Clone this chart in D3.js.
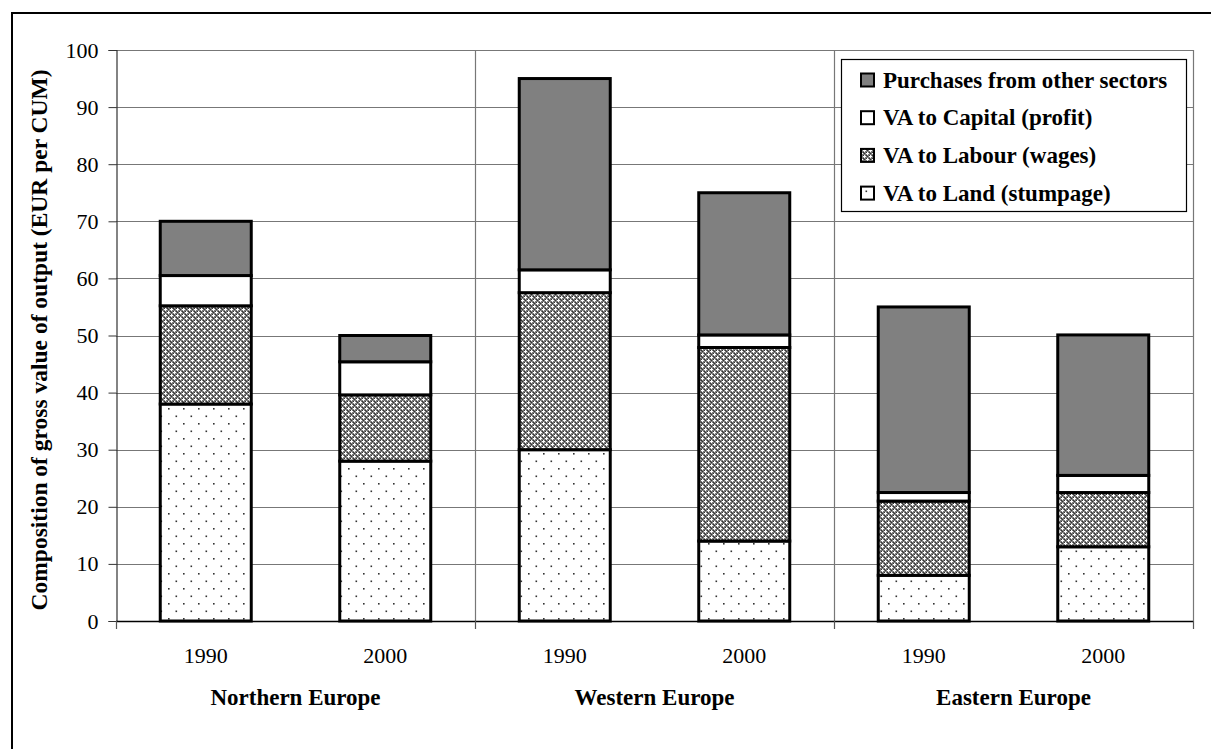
<!DOCTYPE html>
<html>
<head>
<meta charset="utf-8">
<script src="https://cdn.jsdelivr.net/npm/d3@7"></script>
<style>
  html, body { margin: 0; padding: 0; background: #fff; }
  svg { display: block; }
  text { font-family: "Liberation Serif", "Times New Roman", serif; fill: #000; }
</style>
</head>
<body>
<svg id="chart" width="1211" height="749"></svg>
<script>
// ---- data ----
const regions = ["Northern Europe", "Western Europe", "Eastern Europe"];
const years = ["1990", "2000"];
const seriesNames = ["VA to Land (stumpage)", "VA to Labour (wages)", "VA to Capital (profit)", "Purchases from other sectors"];
const land      = [38, 28, 30, 14, 8, 13];
const labour    = [17.2, 11.6, 27.5, 33.9, 13, 9.5];
const capital   = [5.3, 5.8, 4, 2.2, 1.5, 3];
const purchases = [9.5, 4.6, 33.5, 24.9, 32.5, 24.6];
const yTicks = [0, 10, 20, 30, 40, 50, 60, 70, 80, 90, 100];
const yTitle = "Composition of gross value of output (EUR per CUM)";

// ---- build rows ----
const rows = [];
regions.forEach((r, gi) => years.forEach((y, yi) => {
  const i = gi * 2 + yi;
  rows.push({ id: r + "|" + y, region: r, year: y,
    "VA to Land (stumpage)": land[i],
    "VA to Labour (wages)": labour[i],
    "VA to Capital (profit)": capital[i],
    "Purchases from other sectors": purchases[i] });
}));
const stack = d3.stack().keys(seriesNames)(rows);

const svg = d3.select("#chart");
const L = 116, R = 1193, T = 50, B = 621;

// ---- patterns ----
const defs = svg.append("defs");
const pLab = defs.append("pattern").attr("id", "pLabour").attr("patternUnits", "userSpaceOnUse")
  .attr("width", 6).attr("height", 6);
pLab.append("rect").attr("width", 6).attr("height", 6).attr("fill", "#7c7c7c");
[[0,0],[1,0],[5,0],[0,1],[0,5],[3,3],[2,3],[4,3],[3,2],[3,4]].forEach(([x,y]) =>
  pLab.append("rect").attr("x", x).attr("y", y).attr("width", 1).attr("height", 1).attr("fill", "#fff"));
[[3,0],[0,3],[1.5,1.5],[4.5,4.5],[1.5,4.5],[4.5,1.5]].forEach(([x,y]) =>
  pLab.append("rect").attr("x", x).attr("y", y).attr("width", 1).attr("height", 1).attr("fill", "#333"));
pLab.attr("shape-rendering", "crispEdges");

const pLand = defs.append("pattern").attr("id", "pLand").attr("patternUnits", "userSpaceOnUse")
  .attr("width", 15).attr("height", 15);
pLand.append("rect").attr("width", 15).attr("height", 15).attr("fill", "#fff");
[[3,3],[10.5,10.5]].forEach(([x,y]) =>
  pLand.append("rect").attr("x", x).attr("y", y).attr("width", 1.6).attr("height", 1.6).attr("fill", "#333"));

const fills = {
  "VA to Land (stumpage)": "url(#pLand)",
  "VA to Labour (wages)": "url(#pLabour)",
  "VA to Capital (profit)": "#ffffff",
  "Purchases from other sectors": "#808080"
};

// ---- scales ----
const y = d3.scaleLinear().domain([0, 100]).range([B, T]);
const x = d3.scaleBand().domain(rows.map(d => d.id)).range([L, R])
  .paddingInner(0.493).paddingOuter(0.2465);
const g = d3.scaleBand().domain(regions).range([L, R]).padding(0);

// ---- outer frame ----
svg.append("rect").attr("x", 12).attr("y", 13).attr("width", 1250).attr("height", 800)
  .attr("fill", "none").attr("stroke", "#000").attr("stroke-width", 2);

// ---- gridlines ----
svg.append("g").selectAll("line").data(yTicks.filter(t => t > 0)).join("line")
  .attr("x1", L).attr("x2", R).attr("y1", d => Math.round(y(d)) + 0.5).attr("y2", d => Math.round(y(d)) + 0.5)
  .attr("stroke", "#777").attr("stroke-width", 1);
svg.append("g").selectAll("line").data(regions.slice(1).map(r => g(r)).concat([R])).join("line")
  .attr("x1", d => Math.round(d) + 0.5).attr("x2", d => Math.round(d) + 0.5)
  .attr("y1", T).attr("y2", B)
  .attr("stroke", "#777").attr("stroke-width", 1.2);

// ---- y axis ----
const yAxis = svg.append("g").attr("transform", `translate(${L + 0.5},0)`)
  .call(d3.axisLeft(y).tickValues(yTicks).tickSize(8).tickPadding(10));
yAxis.select(".domain").attr("stroke", "#333").attr("stroke-width", 1.2);
yAxis.selectAll(".tick line").attr("stroke", "#333");
yAxis.selectAll(".tick text").style("font-family", '"Liberation Serif", serif').style("font-size", "22px").attr("fill", "#000");

// ---- x axis line & group ticks ----
svg.append("line").attr("x1", L).attr("x2", R).attr("y1", B + 0.5).attr("y2", B + 0.5)
  .attr("stroke", "#000").attr("stroke-width", 1.5);
svg.append("g").selectAll("line").data(regions.map(r => g(r)).concat([R])).join("line")
  .attr("x1", d => Math.round(d) + 0.5).attr("x2", d => Math.round(d) + 0.5)
  .attr("y1", B).attr("y2", B + 8).attr("stroke", "#555").attr("stroke-width", 1.2);

// ---- bars ----
stack.forEach(layer => {
  svg.append("g").selectAll("rect").data(layer).join("rect")
    .attr("x", d => x(d.data.id))
    .attr("width", x.bandwidth())
    .attr("y", d => y(d[1]))
    .attr("height", d => y(d[0]) - y(d[1]))
    .attr("fill", fills[layer.key])
    .attr("stroke", "#000").attr("stroke-width", 3);
});

// ---- x labels ----
svg.append("g").selectAll("text").data(rows).join("text")
  .attr("x", d => x(d.id) + x.bandwidth() / 2).attr("y", 663)
  .attr("text-anchor", "middle").style("font-size", "22px").text(d => d.year);
svg.append("g").selectAll("text").data(regions).join("text")
  .attr("x", d => g(d) + g.bandwidth() / 2).attr("y", 705)
  .attr("text-anchor", "middle").style("font-size", "23px").style("font-weight", "bold").text(d => d);

// ---- y title ----
svg.append("text").attr("transform", `translate(47,340) rotate(-90)`)
  .attr("text-anchor", "middle").style("font-size", "23.5px").style("font-weight", "bold").text(yTitle);

// ---- legend ----
const lg = svg.append("g");
lg.append("rect").attr("x", 841.5).attr("y", 59.5).attr("width", 345).attr("height", 152)
  .attr("fill", "#fff").attr("stroke", "#000").attr("stroke-width", 1.2);
const legendOrder = seriesNames.slice().reverse();
legendOrder.forEach((k, i) => {
  const cy = 80 + i * 37.7;
  lg.append("rect").attr("x", 861).attr("y", cy - 6.5).attr("width", 13).attr("height", 13)
    .attr("fill", fills[k]).attr("stroke", "#000").attr("stroke-width", 2);
  lg.append("text").attr("x", 883).attr("y", cy + 7.5).style("font-size", "23px")
    .style("font-weight", "bold").text(k);
});
</script>
</body>
</html>
